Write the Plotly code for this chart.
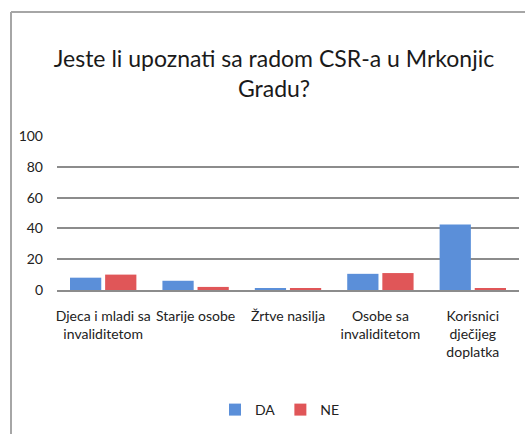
import plotly.graph_objects as go

categories = ["Djeca i mladi sa<br>invaliditetom", "Starije osobe", "Žrtve nasilja",
              "Osobe sa<br>invaliditetom", "Korisnici<br>dječijeg<br>doplatka"]
da_values = [8, 6, 1, 10.5, 42.5]
ne_values = [10, 2, 1, 11, 1]
y_ticks = [0, 20, 40, 60, 80, 100]
title_text = "Jeste li upoznati sa radom CSR-a u Mrkonjic<br>Gradu?"

W, H = 525, 434
L, R, T, B = 57, 6, 136, 144
pw, ph = W - L - R, H - T - B

def px(x):
    return (x - L) / pw

def py(y):
    return (H - B - y) / ph

font = "Lato, sans-serif"

fig = go.Figure()
fig.add_trace(go.Bar(x=categories, y=da_values, name="DA",
                     marker=dict(color="#5b8fd9", line=dict(width=0))))
fig.add_trace(go.Bar(x=categories, y=ne_values, name="NE",
                     marker=dict(color="#e05658", line=dict(width=0))))

fig.update_layout(
    width=W, height=H,
    margin=dict(l=L, r=R, t=T, b=B, autoexpand=False),
    paper_bgcolor="white", plot_bgcolor="white",
    barmode="group", bargap=0.24, bargroupgap=0.11,
    title=dict(text=title_text, x=274 / W, xanchor="center", xref="container",
               y=1 - 67 / H, yanchor="middle", yref="container",
               font=dict(family=font, size=23, color="#1a1a1a")),
    font=dict(family=font, size=14, color="#222"),
    showlegend=True,
    legend=dict(orientation="h", x=px(280), xanchor="center", y=py(410), yanchor="middle",
                font=dict(size=14, color="#222"), itemwidth=30, tracegroupgap=0,
                bgcolor="rgba(0,0,0,0)"),
    xaxis=dict(showgrid=False, showline=True, linecolor="#8c8c8c", linewidth=2,
               ticks="", tickangle=0, automargin=False, ticklabelstandoff=12,
               tickfont=dict(size=14, color="#222")),
    yaxis=dict(range=[0, 100], tickvals=y_ticks, showgrid=True, gridcolor="#8c8c8c",
               gridwidth=2, zeroline=False, showline=False, ticks="", automargin=False,
               ticklabelstandoff=13, tickfont=dict(size=14, color="#222")),
    shapes=[
        dict(type="line", xref="paper", yref="paper", x0=px(11), x1=px(11),
             y0=py(12), y1=py(440), line=dict(color="#a6a6a6", width=2)),
        dict(type="line", xref="paper", yref="paper", x0=px(11), x1=px(530),
             y0=py(12), y1=py(12), line=dict(color="#a6a6a6", width=2)),
    ],
)

fig.write_html("out.html", config={"displayModeBar": False},
               post_script="document.body.style.margin='0';document.body.style.overflow='hidden';")
